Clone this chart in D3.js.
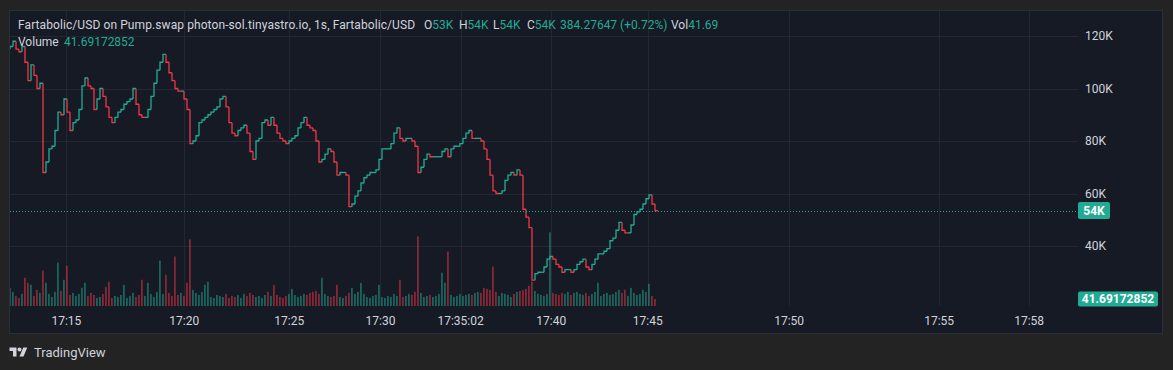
<!DOCTYPE html>
<html>
<head>
<meta charset="utf-8">
<script src="https://cdn.jsdelivr.net/npm/d3@7"></script>
<style>
  html, body { margin: 0; padding: 0; background: #232323; }
  svg { display: block; font-family: Roboto, "Open Sans", sans-serif; }
</style>
</head>
<body>
<svg id="chart" width="1173" height="370"></svg>
<script>
// prices in thousands USD, one close per bar (open = previous close)
var firstOpen = 115;
var closes = [
    116, 118, 115, 114, 116, 110, 103, 109, 105, 100, 102, 68, 72, 77, 78, 84, 91, 90, 96, 91,
    84, 87, 88, 92, 101, 104, 101, 100, 92, 96, 100, 97, 93, 89, 87, 89, 91, 92, 94, 95,
    96, 100, 94, 90, 89, 89, 92, 97, 102, 107, 110, 113, 110, 106, 103, 100, 99, 99, 96, 92,
    79, 80, 82, 87, 88, 89, 90, 91, 92, 93, 96, 97, 93, 87, 83, 82, 84, 85, 86, 83,
    76, 73, 80, 81, 87, 88, 86, 89, 86, 83, 81, 80, 79, 80, 81, 82, 85, 87, 89, 86,
    85, 84, 80, 72, 73, 75, 77, 76, 72, 67, 68, 68, 67, 55, 56, 59, 61, 64, 66, 67,
    68, 68, 69, 73, 77, 77, 77, 79, 83, 85, 81, 80, 81, 81, 80, 78, 68, 70, 73, 75,
    74, 74, 74, 74, 76, 77, 74, 77, 78, 78, 79, 81, 83, 84, 81, 81, 81, 80, 77, 73,
    67, 61, 60, 60, 61, 65, 67, 68, 67, 69, 67, 54, 51, 47, 27, 29.5, 30, 30, 32, 35,
    36, 35, 33, 32, 30, 31, 31, 30, 31, 33, 34, 35, 32, 31, 33, 35, 37, 37, 38, 39,
    42, 43, 46, 49, 46, 45, 45, 48, 52, 53, 54, 56, 58, 59.5, 56, 53.5
];
var volumes = [
    108, 84, 60, 48, 72, 168, 138, 126, 60, 96, 78, 210, 138, 72, 54, 84, 258, 90, 156, 240,
    66, 78, 60, 72, 108, 138, 60, 78, 66, 48, 54, 72, 114, 144, 48, 60, 54, 66, 126, 48,
    60, 78, 54, 66, 156, 60, 138, 72, 54, 84, 270, 72, 186, 78, 60, 294, 66, 78, 60, 138,
    396, 96, 78, 66, 84, 126, 144, 54, 48, 66, 60, 54, 72, 48, 60, 54, 66, 48, 72, 60,
    78, 66, 54, 60, 48, 66, 84, 60, 126, 66, 54, 48, 60, 72, 102, 66, 54, 60, 72, 66,
    78, 84, 90, 72, 168, 72, 60, 54, 60, 126, 54, 48, 60, 78, 108, 72, 84, 138, 72, 54,
    48, 60, 66, 126, 54, 48, 60, 54, 72, 60, 156, 54, 60, 72, 66, 84, 414, 78, 54, 60,
    66, 54, 60, 72, 198, 138, 324, 66, 54, 60, 72, 60, 66, 72, 66, 78, 84, 78, 108, 102,
    96, 234, 84, 60, 78, 72, 66, 54, 72, 84, 90, 96, 102, 120, 144, 90, 72, 66, 60, 72,
    438, 78, 72, 66, 78, 72, 84, 66, 78, 84, 72, 66, 78, 60, 72, 84, 138, 60, 72, 78,
    66, 72, 84, 96, 78, 96, 60, 108, 78, 66, 72, 96, 84, 132, 60, 41.69172852
];
var priceTicks = [40, 60, 80, 100, 120];
var timeLabels = ["17:15", "17:20", "17:25", "17:30", "17:35:02", "17:40", "17:45", "17:50", "17:55", "17:58"];
var timeSlots = [18.8, 58.1, 93.1, 123.5, 150.2, 180.4, 212.6, 259.7, 309.7, 339.7];
var totalSlots = 356;

var title = "Fartabolic/USD on Pump.swap photon-sol.tinyastro.io, 1s, Fartabolic/USD";
var legendOHLC = [["O", "53K"], ["H", "54K"], ["L", "54K"], ["C", "54K"]];
var legendChange = "384.27647 (+0.72%)";
var legendVol = "41.69";
var lastVolumeText = "41.69172852";

var upColor = "#22ab94", downColor = "#f23645";
var textColor = "#d1d4dc", gridColor = "#222733";

var svg = d3.select("#chart");

var pane = { left: 10, top: 11, right: 1078, bottom: 307 };

var x = d3.scaleLinear().domain([0, totalSlots]).range([pane.left, pane.right]);
var y = d3.scaleLinear().domain([40, 100]).range([246, 88.5]);
var vy = d3.scaleLinear().domain([0, 440]).range([306, 232]);
var step = x(1) - x(0);

var bars = closes.map(function(c, i) {
    var o = i ? closes[i - 1] : firstOpen;
    return { i: i, o: o, c: c, v: volumes[i], up: c >= o };
});

// frame
svg.append("rect").attr("x", 9.5).attr("y", 10.5).attr("width", 1153).attr("height", 323)
    .attr("fill", "#161a25").attr("stroke", "#2b2f3a");

svg.append("clipPath").attr("id", "plotclip").append("rect")
    .attr("x", pane.left).attr("y", pane.top)
    .attr("width", pane.right - pane.left).attr("height", pane.bottom - pane.top);

// grid
svg.append("g").selectAll("line").data(priceTicks).join("line")
    .attr("x1", pane.left).attr("x2", pane.right)
    .attr("y1", d => Math.round(y(d)) + 0.5).attr("y2", d => Math.round(y(d)) + 0.5)
    .attr("stroke", gridColor);
svg.append("g").selectAll("line").data(timeSlots).join("line")
    .attr("x1", d => Math.round(x(d)) + 0.5).attr("x2", d => Math.round(x(d)) + 0.5)
    .attr("y1", pane.top).attr("y2", 306)
    .attr("stroke", gridColor);

var plot = svg.append("g").attr("clip-path", "url(#plotclip)");

// volume
plot.append("g").selectAll("rect").data(bars).join("rect")
    .attr("x", d => x(d.i) - step / 2 + 0.5)
    .attr("width", step - 1.2)
    .attr("y", d => vy(d.v))
    .attr("height", d => vy(0) - vy(d.v))
    .attr("fill", d => d.up ? "rgba(34,171,148,0.5)" : "rgba(242,54,69,0.5)");

// candles, drawn as thin steps since they are packed tighter than a pixel in the original
plot.append("g").selectAll("path").data(bars).join("path")
    .attr("d", d => "M" + x(d.i) + "," + y(d.o) + "V" + y(d.c) + "H" + x(d.i + 1))
    .attr("fill", "none")
    .attr("stroke-width", 1.3)
    .attr("stroke", d => d.up ? upColor : downColor);

// last price line
var last = closes[closes.length - 1];
svg.append("line")
    .attr("x1", pane.left).attr("x2", pane.right)
    .attr("y1", Math.round(y(last)) + 0.5).attr("y2", Math.round(y(last)) + 0.5)
    .attr("stroke", upColor).attr("stroke-dasharray", "1,2");

// price axis
svg.append("g").selectAll("text").data(priceTicks).join("text")
    .attr("x", 1085).attr("y", d => y(d)).attr("dy", "0.35em")
    .attr("fill", textColor).attr("font-size", 12)
    .text(d => d + "K");

svg.append("rect").attr("x", 1078).attr("y", y(last) - 8.5).attr("width", 32).attr("height", 17)
    .attr("rx", 2).attr("fill", upColor);
svg.append("text").attr("x", 1094).attr("y", y(last)).attr("dy", "0.35em")
    .attr("text-anchor", "middle").attr("fill", "#fff").attr("font-size", 12).attr("font-weight", "bold")
    .text(Math.round(last) + "K");

var lv = vy(volumes[volumes.length - 1]);
svg.append("rect").attr("x", 1078).attr("y", lv - 7.5).attr("width", 80).attr("height", 15)
    .attr("rx", 2).attr("fill", upColor);
svg.append("text").attr("x", 1118).attr("y", lv).attr("dy", "0.35em")
    .attr("text-anchor", "middle").attr("fill", "#fff").attr("font-size", 12).attr("font-weight", "bold")
    .text(lastVolumeText);

// time axis
svg.append("g").selectAll("text").data(timeLabels).join("text")
    .attr("x", (d, i) => x(timeSlots[i])).attr("y", 325)
    .attr("text-anchor", "middle").attr("fill", textColor).attr("font-size", 12)
    .text(d => d);

// legend
var lg = svg.append("g").attr("font-size", 12);
lg.append("text").attr("x", 18).attr("y", 29).attr("fill", textColor)
    .attr("textLength", 397).attr("lengthAdjust", "spacing").text(title);
var legendX = [424, 459, 493, 527];
legendOHLC.forEach(function(p, i) {
    var t = lg.append("text").attr("x", legendX[i]).attr("y", 29).attr("fill", textColor);
    t.append("tspan").text(p[0]);
    t.append("tspan").attr("fill", upColor).text(p[1]);
});
lg.append("text").attr("x", 560).attr("y", 29).attr("fill", upColor).text(legendChange);
var vt = lg.append("text").attr("x", 671).attr("y", 29).attr("fill", textColor);
vt.append("tspan").text("Vol");
vt.append("tspan").attr("fill", upColor).text(legendVol);

lg.append("text").attr("x", 18).attr("y", 46).attr("fill", textColor).text("Volume");
lg.append("text").attr("x", 64).attr("y", 46).attr("fill", upColor).text(lastVolumeText);

// footer logo
var logo = svg.append("g").attr("transform", "translate(9.5,345.5) scale(0.5)").attr("fill", textColor);
logo.append("path").attr("d", "M14 22H7V11H0V4h14v18zM28 22h-8l7.5-18h8L28 22z");
logo.append("circle").attr("cx", 20).attr("cy", 8).attr("r", 4);
svg.append("text").attr("x", 34).attr("y", 357).attr("fill", textColor).attr("font-size", 13)
    .text("TradingView");
</script>
</body>
</html>
